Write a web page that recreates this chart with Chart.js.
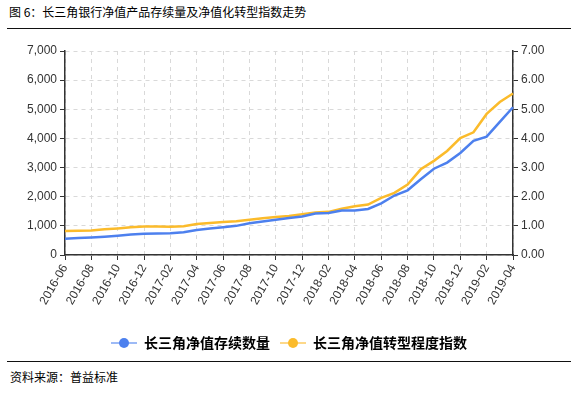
<!DOCTYPE html>
<html>
<head>
<meta charset="utf-8">
<script src="https://cdn.jsdelivr.net/npm/chart.js@4.4.1/dist/chart.umd.min.js"></script>
<style>
  html, body { margin: 0; padding: 0; background: #fff; }
  body { width: 578px; height: 393px; position: relative; overflow: hidden;
         font-family: "Noto Sans CJK SC", sans-serif; color: #000; }
  .title { position: absolute; left: 9px; top: 3px; font-size: 12px; line-height: 18px; }
  .rule { position: absolute; left: 7px; width: 564px; height: 0; border-top: 1.5px solid #111; }
  .source { position: absolute; left: 10px; top: 369px; font-size: 12px; line-height: 16px; }
  .wrap { position: absolute; left: 0; top: 30px; width: 578px; height: 330px; }
</style>
</head>
<body>
<div class="title">图 6：长三角银行净值产品存续量及净值化转型指数走势</div>
<div class="rule" style="top:28px"></div>
<div class="wrap"><canvas id="chart"></canvas></div>
<div class="rule" style="top:361px"></div>
<div class="source">资料来源：普益标准</div>
<script>
// months, 2016-06 .. 2019-04
const months = ['2016-06','2016-07','2016-08','2016-09','2016-10','2016-11','2016-12',
  '2017-01','2017-02','2017-03','2017-04','2017-05','2017-06','2017-07','2017-08','2017-09',
  '2017-10','2017-11','2017-12','2018-01','2018-02','2018-03','2018-04','2018-05','2018-06',
  '2018-07','2018-08','2018-09','2018-10','2018-11','2018-12','2019-01','2019-02','2019-03','2019-04'];

// 长三角净值存续数量 (left axis)
const stockCount = [560, 580, 600, 630, 660, 700, 730, 740, 745, 780, 860, 910, 950, 1000,
  1090, 1150, 1210, 1270, 1320, 1420, 1440, 1530, 1530, 1580, 1770, 2040, 2220, 2600,
  2960, 3170, 3500, 3920, 4060, 4570, 5070];

// 长三角净值转型程度指数 (right axis)
const transIndex = [0.82, 0.83, 0.84, 0.88, 0.91, 0.95, 0.98, 0.98, 0.97, 0.99, 1.06, 1.10,
  1.13, 1.16, 1.21, 1.26, 1.30, 1.34, 1.40, 1.46, 1.48, 1.59, 1.67, 1.73, 1.96, 2.13, 2.42,
  2.94, 3.23, 3.57, 4.01, 4.21, 4.84, 5.25, 5.54];

const seriesNames = ['长三角净值存续数量', '长三角净值转型程度指数'];
const leftTicks = [0, 1000, 2000, 3000, 4000, 5000, 6000, 7000];
const rightTicks = [0, 1, 2, 3, 4, 5, 6, 7];

const BLUE = '#4d80ee';
const ORANGE = '#fbbb2b';
const AXIS = '#333333';
const GRID = '#d9d9d9';

// legend marker: faint line with a dot in the middle
function marker(color, faint) {
    const c = document.createElement('canvas');
    c.width = 26; c.height = 12;
    const g = c.getContext('2d');
    g.strokeStyle = faint;
    g.lineWidth = 2;
    g.beginPath(); g.moveTo(0, 6); g.lineTo(26, 6); g.stroke();
    g.fillStyle = color;
    g.beginPath(); g.arc(13, 6, 5, 0, Math.PI * 2); g.fill();
    return c;
}
const markers = [marker(BLUE, '#9dbaf6'), marker(ORANGE, '#fdd889')];

const tickFont = { family: 'Liberation Sans', size: 12 };

new Chart(document.getElementById('chart'), {
    type: 'line',
    data: {
        labels: months,
        datasets: [{
            label: seriesNames[0],
            data: stockCount,
            yAxisID: 'y',
            borderColor: BLUE,
            backgroundColor: BLUE,
            borderWidth: 2.5,
            pointRadius: 0,
            tension: 0
        }, {
            label: seriesNames[1],
            data: transIndex,
            yAxisID: 'y1',
            borderColor: ORANGE,
            backgroundColor: ORANGE,
            borderWidth: 2.5,
            pointRadius: 0,
            tension: 0
        }]
    },
    options: {
        responsive: true,
        maintainAspectRatio: false,
        animation: false,
        layout: { padding: { top: 21, left: 0, right: 0, bottom: 0 } },
        plugins: {
            tooltip: { enabled: false },
            legend: {
                position: 'bottom',
                labels: {
                    usePointStyle: true,
                    pointStyleWidth: 26,
                    padding: 10,
                    color: '#000',
                    font: { family: 'Noto Sans CJK SC', size: 14, weight: 'bold' },
                    generateLabels: chart => chart.data.datasets.map((ds, i) => ({
                        text: ds.label,
                        pointStyle: markers[i],
                        fillStyle: ds.borderColor,
                        strokeStyle: ds.borderColor,
                        lineWidth: 0,
                        hidden: false,
                        datasetIndex: i
                    }))
                }
            }
        },
        scales: {
            x: {
                offset: false,
                afterFit: s => { s.height = 71; },
                grid: { color: GRID, tickColor: AXIS, tickLength: 5, tickBorderDash: [] },
                border: { color: AXIS, width: 1.5, dash: [4, 4] },
                ticks: {
                    autoSkip: false,
                    maxRotation: 60,
                    minRotation: 60,
                    color: AXIS,
                    font: tickFont,
                    padding: 2,
                    callback: function(v, i) { return i % 2 === 0 ? months[i] : null; }
                }
            },
            y: {
                position: 'left',
                min: 0,
                max: 7000,
                afterFit: s => { s.width = 65; },
                afterBuildTicks: s => { s.ticks = leftTicks.map(v => ({ value: v })); },
                grid: { color: GRID, tickColor: AXIS, tickLength: 5, tickBorderDash: [] },
                border: { color: AXIS, width: 1.5, dash: [4, 4] },
                ticks: {
                    color: AXIS,
                    font: tickFont,
                    padding: 3,
                    callback: v => v.toLocaleString('en-US')
                }
            },
            y1: {
                position: 'right',
                min: 0,
                max: 7,
                afterFit: s => { s.width = 65; },
                afterBuildTicks: s => { s.ticks = rightTicks.map(v => ({ value: v })); },
                grid: { drawOnChartArea: false, tickColor: AXIS, tickLength: 5 },
                border: { color: AXIS, width: 1.5 },
                ticks: {
                    color: AXIS,
                    font: tickFont,
                    padding: 3,
                    callback: v => v.toFixed(2)
                }
            }
        }
    }
});
</script>
</body>
</html>
